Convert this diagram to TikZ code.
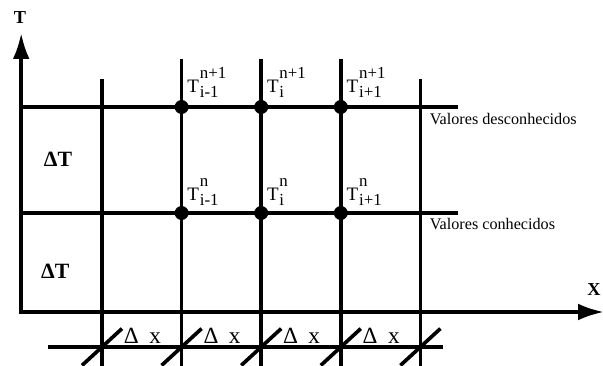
\documentclass[tikz,border=0pt]{standalone}
\usepackage{fontspec}
\setmainfont{Liberation Serif}
\usetikzlibrary{arrows.meta,positioning}

% T with stacked time / space indices
\newcommand{\tval}[2]{T\kern0.6pt\makebox[0pt][l]{\raisebox{9.5pt}{\fontsize{12}{12}\selectfont #1}}\raisebox{-3.5pt}{\fontsize{12}{12}\selectfont #2}}

\begin{document}
\begin{tikzpicture}[line width=2.6pt,
	dot/.style = {circle, fill, inner sep=0pt, minimum size=0.35cm},
	tlbl/.style = {inner sep=0pt, font=\fontsize{13.5}{15}\selectfont},
	note/.style = {anchor=base west, inner sep=0pt, font=\fontsize{11.5}{13}\selectfont},
	dtlbl/.style = {inner sep=0pt, font=\fontsize{15.5}{18}\selectfont\bfseries},
	dxlbl/.style = {inner sep=0pt, font=\fontsize{16.5}{18}\selectfont},
	axlbl/.style = {inner sep=0pt, font=\fontsize{13}{15}\selectfont\bfseries},
	tip/.tip = {Latex[length=0.65cm, width=0.42cm]}]
	
	% Page frame
	\useasboundingbox (0,0) rectangle (15.075,9.125);
	
	% Axes
	\coordinate (o) at (0.53,1.325);
	\coordinate (ytip) at (0.53,8.3);
	\coordinate (xtip) at (15.1,1.325);
	\draw[tip-tip] (ytip) -- (o) -- (xtip);
	\node[axlbl] (tname) at (0.5,8.675) {T};
	\node[axlbl, anchor=east] (xname) at (15.06,1.875) {X};
	
	% Time levels n and n+1
	\coordinate (lo w) at (0.53,3.8);
	\coordinate (lo e) at (11.45,3.8);
	\coordinate (up w) at (0.53,6.45);
	\coordinate (up e) at (11.45,6.45);
	\draw (lo w) -- (lo e);
	\draw (up w) -- (up e);
	
	% Space columns
	\coordinate (top1) at (2.55,7.15);
	\coordinate (top2) at (4.54,7.65);
	\coordinate (top3) at (6.53,7.65);
	\coordinate (top4) at (8.52,7.65);
	\coordinate (top5) at (10.51,7.15);
	\coordinate (bot1) at (2.55,-0.3);
	\coordinate (bot2) at (4.54,-0.3);
	\coordinate (bot3) at (6.53,-0.3);
	\coordinate (bot4) at (8.52,-0.3);
	\coordinate (bot5) at (10.51,-0.3);
	\draw (top1) -- (bot1);
	\draw (top2) -- (bot2);
	\draw (top3) -- (bot3);
	\draw (top4) -- (bot4);
	\draw (top5) -- (bot5);
	
	% Grid points
	\node[dot] (up1) at (4.54,6.45) {};
	\node[dot] (up2) at (6.53,6.45) {};
	\node[dot] (up3) at (8.52,6.45) {};
	\node[dot] (lo1) at (4.54,3.8) {};
	\node[dot] (lo2) at (6.53,3.8) {};
	\node[dot] (lo3) at (8.52,3.8) {};
	
	% Point labels
	\node[tlbl, above right=0.2cm and 0.1cm of up1.center] (tup1) {\tval{n+1}{i-1}};
	\node[tlbl, above right=0.2cm and 0.1cm of up2.center] (tup2) {\tval{n+1}{i}};
	\node[tlbl, above right=0.2cm and 0.1cm of up3.center] (tup3) {\tval{n+1}{i+1}};
	\node[tlbl, above right=0.15cm and 0.1cm of lo1.center] (tlo1) {\tval{n}{i-1}};
	\node[tlbl, above right=0.15cm and 0.1cm of lo2.center] (tlo2) {\tval{n}{i}};
	\node[tlbl, above right=0.15cm and 0.1cm of lo3.center] (tlo3) {\tval{n}{i+1}};
	
	\node[note] (unknown) at (10.7,6.0) {Valores desconhecidos};
	\node[note] (known) at (10.7,3.39) {Valores conhecidos};
	
	% Time steps
	\node[dtlbl] (dt2) at (1.45,5.15) {ΔT};
	\node[dtlbl] (dt1) at (1.38,2.33) {ΔT};
	
	% Space steps with tick marks
	\coordinate (tk w) at (1.2,0.45);
	\coordinate (tk e) at (11.075,0.45);
	\draw (tk w) -- (tk e);
	\coordinate (k1) at (2.55,0.45);
	\coordinate (k2) at (4.54,0.45);
	\coordinate (k3) at (6.53,0.45);
	\coordinate (k4) at (8.52,0.45);
	\coordinate (k5) at (10.51,0.45);
	\draw ([shift={(-0.5,-0.46)}]k1) -- ([shift={(0.5,0.46)}]k1);
	\draw ([shift={(-0.5,-0.46)}]k2) -- ([shift={(0.5,0.46)}]k2);
	\draw ([shift={(-0.5,-0.46)}]k3) -- ([shift={(0.5,0.46)}]k3);
	\draw ([shift={(-0.5,-0.46)}]k4) -- ([shift={(0.5,0.46)}]k4);
	\draw ([shift={(-0.5,-0.46)}]k5) -- ([shift={(0.5,0.46)}]k5);
	
	\node[dxlbl] (dx1) at (3.56,0.73) {Δ\hspace{0.45em}x};
	\node[dxlbl] (dx2) at (5.55,0.73) {Δ\hspace{0.45em}x};
	\node[dxlbl] (dx3) at (7.54,0.73) {Δ\hspace{0.45em}x};
	\node[dxlbl] (dx4) at (9.53,0.73) {Δ\hspace{0.45em}x};
	
\end{tikzpicture}
\end{document}
